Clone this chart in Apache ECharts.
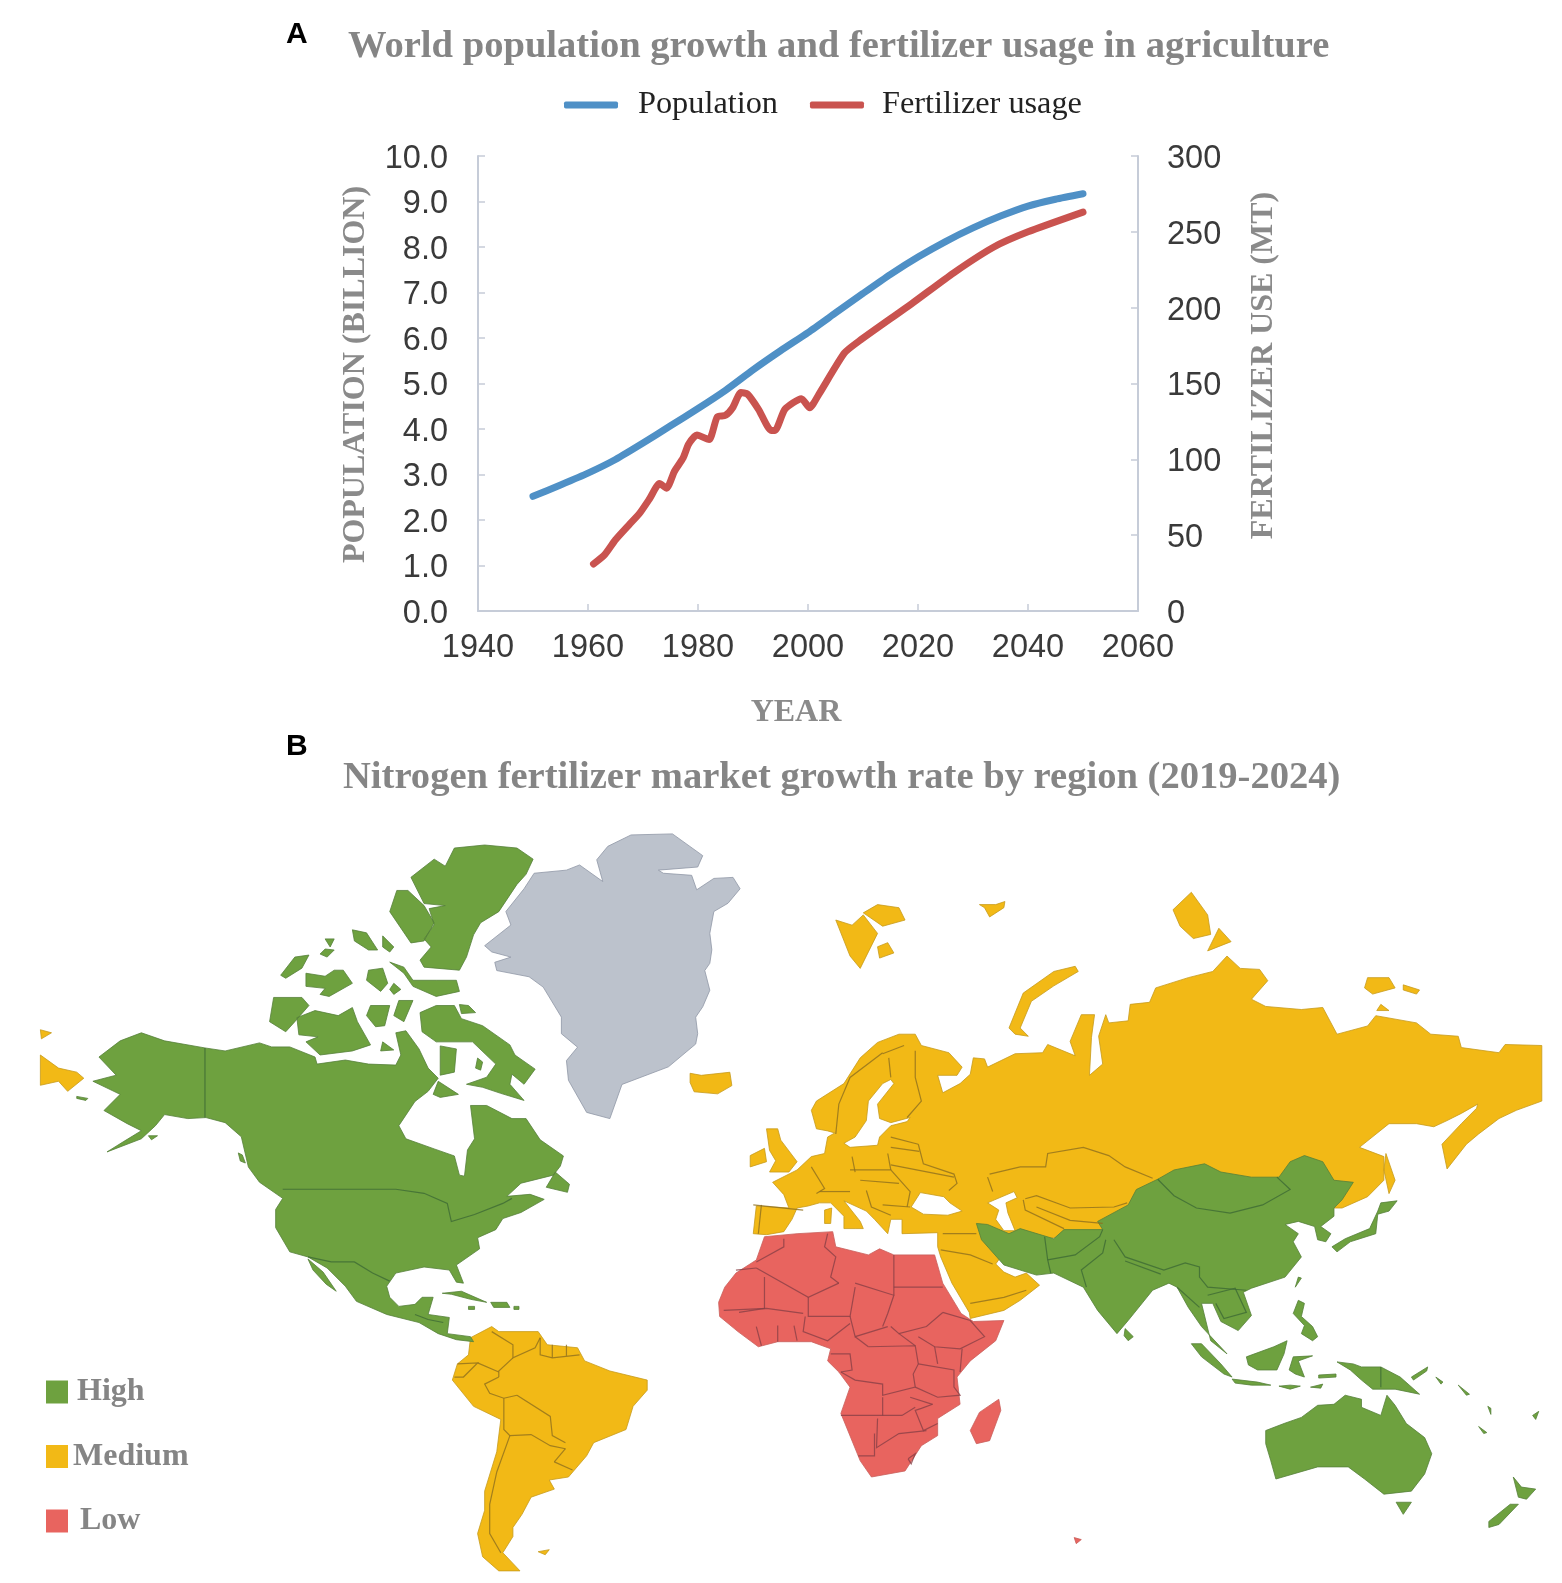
<!DOCTYPE html>
<html>
<head>
<meta charset="utf-8">
<title>Population, fertilizer and nitrogen market growth</title>
<script src="https://cdn.jsdelivr.net/npm/echarts@6/dist/echarts.min.js"></script>
<style>
  html, body { margin: 0; padding: 0; background: #fff; }
  #chart { width: 1562px; height: 1583px; }
</style>
</head>
<body>
<div id="chart"></div>
<script>
// panel A
const POP_YEARS = [1950, 1955, 1960, 1965, 1970, 1975, 1980, 1985, 1990, 1995, 2000, 2005, 2010, 2015, 2020, 2025, 2030, 2035, 2040, 2045, 2050];
const POP_VALUES = [2.52, 2.77, 3.03, 3.33, 3.69, 4.07, 4.45, 4.85, 5.3, 5.72, 6.12, 6.55, 6.98, 7.4, 7.78, 8.12, 8.42, 8.68, 8.9, 9.05, 9.17];
const FERT_YEARS = [1961, 1963, 1965, 1967.5, 1969.3, 1971.2, 1973, 1974.3, 1975.7, 1977.3, 1978.3, 1979.8, 1982, 1983.5, 1985, 1986.3, 1987.8, 1989, 1991, 1993.3, 1994, 1995.8, 1998.8, 2000.3, 2002, 2006.6, 2009.3, 2019, 2026.5, 2033.8, 2040, 2050];
const FERT_VALUES = [31, 37, 47, 57, 64, 74, 84, 81, 92, 101, 110, 116, 113, 128, 129, 134, 144, 143, 133, 119, 119, 133, 140, 134, 143, 170, 178, 203, 223, 240, 250, 263];

// panel B, region outlines (x, y as in the image)
const NORTH_AMERICA = [
  [[98,1047],[119,1031],[140,1023],[163,1031],[203,1038],[223,1041],[257,1033],[269,1037],[287,1037],[312,1047],[314,1054],[342,1050],[365,1054],[392,1055],[397,1045],[392,1023],[402,1021],[415,1039],[424,1058],[434,1068],[424,1081],[411,1091],[395,1115],[402,1128],[430,1138],[450,1145],[455,1164],[460,1165],[463,1139],[470,1128],[466,1095],[482,1095],[507,1108],[521,1108],[535,1129],[558,1145],[555,1155],[548,1164],[516,1172],[502,1185],[525,1183],[539,1188],[516,1201],[498,1207],[491,1218],[473,1226],[475,1237],[452,1253],[459,1271],[452,1270],[445,1258],[420,1255],[392,1261],[383,1274],[386,1285],[395,1294],[411,1292],[418,1285],[429,1285],[424,1302],[445,1305],[443,1321],[466,1324],[469,1329],[452,1327],[434,1321],[415,1310],[383,1302],[353,1289],[342,1274],[324,1256],[305,1245],[287,1240],[273,1216],[273,1198],[280,1187],[257,1171],[246,1156],[239,1126],[223,1112],[204,1107],[186,1108],[163,1104],[154,1115],[140,1128],[106,1141],[122,1131],[140,1120],[126,1113],[103,1100],[119,1084],[92,1071],[115,1065]],
  [[305,1247],[320,1260],[333,1279],[323,1272],[310,1258]],
  [[436,1036],[452,1039],[450,1062],[436,1065]],
  [[473,1048],[478,1052],[476,1060],[471,1058]],
  [[434,1071],[454,1084],[436,1087],[429,1084]],
  [[550,1161],[564,1173],[562,1181],[541,1176]],
  [[236,1142],[240,1144],[243,1152],[238,1150]],
  [[147,1125],[156,1125],[150,1129]],
  [[76,1086],[87,1088],[85,1090],[76,1088]],
  [[438,1281],[457,1279],[482,1290],[466,1287],[447,1282]],
  [[486,1290],[502,1290],[505,1295],[489,1295]],
  [[464,1294],[470,1294],[470,1297],[464,1297]],
  [[509,1294],[514,1294],[514,1297],[509,1297]]
];
const FAR_NORTH_ISLANDS = [
  [[445,865],[454,847],[484,844],[516,847],[532,858],[525,873],[516,883],[498,910],[480,921],[473,933],[466,955],[459,968],[424,965],[420,958],[431,945],[424,937],[434,923],[429,907],[445,904],[424,902],[411,876],[434,858]],
  [[397,889],[408,889],[424,904],[434,921],[424,939],[411,941],[390,910]]
];
const ARCTIC_ISLANDS = [
  [[324,934],[333,934],[329,942]], [[324,944],[333,945],[326,952],[319,949]],
  [[351,925],[365,928],[376,945],[367,945],[353,936]],
  [[381,931],[392,942],[388,947],[381,942]],
  [[294,952],[308,950],[301,963],[285,973],[280,970]],
  [[305,968],[324,971],[333,965],[342,965],[351,978],[328,991],[319,989],[324,983],[305,981]],
  [[367,965],[381,963],[386,978],[379,986],[365,975]],
  [[392,978],[399,984],[392,989],[388,984]],
  [[388,957],[402,962],[411,975],[434,975],[454,975],[457,986],[434,991],[411,981],[402,968]],
  [[273,992],[301,992],[308,1000],[294,1016],[285,1026],[269,1016]],
  [[296,1012],[314,1005],[337,1010],[351,1002],[356,1016],[369,1039],[351,1045],[319,1049],[305,1036],[317,1031],[298,1029]],
  [[369,1000],[388,1000],[383,1020],[374,1021],[365,1010]],
  [[397,995],[411,995],[402,1016],[392,1010]],
  [[381,1036],[392,1044],[379,1045]],
  [[418,1007],[434,1000],[452,1000],[459,1013],[480,1020],[507,1039],[512,1049],[532,1063],[521,1078],[509,1068],[507,1078],[521,1094],[498,1087],[480,1081],[464,1078],[484,1071],[493,1058],[470,1036],[434,1036],[420,1026]],
  [[457,999],[466,1000],[473,1007],[459,1008]]
];
const ASIA_PACIFIC = [
  [[1150,1169],[1166,1160],[1196,1154],[1212,1162],[1242,1167],[1269,1167],[1280,1152],[1294,1146],[1312,1152],[1323,1170],[1342,1172],[1331,1189],[1323,1197],[1323,1205],[1310,1215],[1320,1222],[1315,1230],[1307,1228],[1304,1215],[1288,1210],[1275,1213],[1288,1222],[1283,1230],[1291,1245],[1275,1265],[1242,1276],[1234,1280],[1242,1303],[1229,1318],[1212,1309],[1204,1291],[1193,1291],[1202,1328],[1218,1341],[1193,1314],[1180,1295],[1169,1275],[1161,1271],[1145,1278],[1121,1308],[1110,1321],[1091,1298],[1077,1275],[1048,1261],[1031,1263],[999,1253],[977,1228],[972,1212],[983,1213],[1004,1222],[1015,1217],[1048,1227],[1058,1218],[1096,1218],[1091,1210],[1121,1194],[1129,1179]],
  [[1118,1316],[1126,1324],[1121,1328],[1117,1323]],
  [[1369,1192],[1385,1190],[1377,1200],[1366,1203],[1364,1222],[1339,1230],[1326,1240],[1321,1235],[1334,1227],[1358,1217],[1366,1200]],
  [[1288,1265],[1291,1266],[1285,1275]],
  [[1288,1288],[1294,1291],[1291,1304],[1302,1314],[1307,1324],[1302,1328],[1291,1321],[1294,1313],[1283,1301]],
  [[1183,1331],[1193,1331],[1212,1351],[1223,1364],[1215,1361],[1193,1344]],
  [[1223,1366],[1248,1369],[1261,1372],[1242,1372],[1226,1370]],
  [[1237,1344],[1264,1334],[1277,1328],[1274,1341],[1267,1357],[1248,1357],[1239,1352]],
  [[1283,1344],[1302,1343],[1288,1348],[1294,1364],[1285,1361],[1279,1357]],
  [[1326,1349],[1342,1351],[1350,1354],[1369,1354],[1388,1364],[1407,1381],[1383,1376],[1361,1376],[1350,1367],[1339,1357]],
  [[1269,1373],[1280,1372],[1290,1373],[1280,1376]], [[1300,1374],[1312,1371],[1310,1375]],
  [[1308,1362],[1325,1361],[1325,1364],[1308,1365]],
  [[1399,1364],[1415,1354],[1414,1358],[1401,1367]], [[1423,1364],[1430,1369],[1428,1371]], [[1445,1372],[1456,1381],[1453,1382]],
  [[1474,1393],[1477,1395],[1477,1401]], [[1465,1413],[1473,1419],[1470,1420]], [[1518,1402],[1524,1398],[1521,1406]],
  [[1256,1417],[1274,1410],[1291,1404],[1307,1392],[1323,1391],[1334,1382],[1350,1386],[1350,1394],[1369,1402],[1375,1382],[1383,1392],[1394,1410],[1412,1424],[1419,1440],[1412,1460],[1399,1477],[1372,1480],[1353,1465],[1337,1453],[1307,1453],[1266,1465],[1261,1447],[1256,1430]],
  [[1384,1488],[1399,1488],[1391,1500]],
  [[1499,1463],[1507,1473],[1521,1475],[1512,1485],[1504,1483]],
  [[1504,1490],[1485,1510],[1475,1513],[1475,1507],[1496,1490]]
];
const EURASIA = [
  [[896,1028],[912,1028],[918,1039],[945,1046],[958,1060],[953,1068],[934,1068],[939,1085],[956,1076],[966,1067],[969,1051],[980,1052],[983,1060],[1010,1047],[1037,1046],[1042,1038],[1069,1049],[1064,1035],[1075,1009],[1088,1009],[1085,1031],[1083,1068],[1096,1057],[1092,1030],[1099,1009],[1102,1017],[1121,1015],[1123,999],[1142,997],[1148,983],[1180,973],[1204,967],[1218,952],[1231,964],[1250,965],[1258,976],[1242,994],[1256,1001],[1291,1004],[1312,1002],[1326,1028],[1356,1020],[1364,1010],[1404,1017],[1418,1028],[1445,1030],[1448,1041],[1485,1046],[1491,1038],[1527,1039],[1527,1093],[1502,1102],[1485,1110],[1465,1125],[1453,1135],[1434,1159],[1429,1135],[1448,1115],[1463,1100],[1464,1096],[1448,1105],[1434,1112],[1421,1118],[1404,1115],[1377,1115],[1348,1138],[1372,1147],[1372,1170],[1356,1186],[1331,1197],[1323,1197],[1096,1212],[1096,1218],[1048,1226],[1004,1234],[991,1252],[999,1260],[1010,1265],[1021,1261],[1034,1273],[1015,1288],[999,1298],[966,1306],[965,1300],[948,1271],[937,1245],[934,1235],[934,1221],[899,1222],[899,1208],[888,1208],[885,1222],[872,1208],[864,1200],[842,1190],[858,1210],[861,1217],[853,1217],[842,1217],[842,1205],[829,1192],[818,1192],[807,1195],[796,1197],[791,1208],[783,1220],[766,1223],[753,1222],[756,1195],[788,1197],[783,1184],[772,1172],[796,1160],[810,1147],[823,1144],[826,1128],[833,1124],[826,1122],[815,1120],[810,1102],[815,1093],[842,1076],[858,1051],[875,1036]],
  [[766,1120],[777,1120],[780,1131],[796,1152],[788,1162],[769,1162],[775,1151],[769,1141]],
  [[750,1146],[764,1139],[766,1152],[750,1157]],
  [[691,1066],[702,1068],[730,1065],[732,1078],[718,1086],[695,1084],[691,1075]],
  [[834,917],[850,922],[861,912],[875,930],[858,964],[848,952]],
  [[861,910],[875,902],[896,905],[902,917],[880,923]],
  [[875,943],[885,939],[891,949],[877,954]],
  [[975,902],[991,902],[1000,899],[999,905],[985,914],[980,905]],
  [[1004,1022],[1018,988],[1048,967],[1069,962],[1072,967],[1048,981],[1026,996],[1015,1022],[1023,1030],[1010,1028]],
  [[1183,890],[1199,912],[1202,931],[1185,935],[1172,923],[1165,907]],
  [[1210,925],[1222,938],[1199,947]],
  [[1356,973],[1377,973],[1383,983],[1361,989],[1353,983]],
  [[1391,980],[1407,985],[1404,989],[1391,985]],
  [[1369,999],[1377,1005],[1365,1005]],
  [[1374,1144],[1383,1170],[1377,1183],[1372,1160]],
  [[823,1199],[830,1197],[829,1212],[823,1212]]
];
const BERING_EDGE = [
  [[40,1045],[58,1058],[76,1062],[83,1068],[67,1081],[58,1071],[40,1075]],
  [[40,1020],[51,1023],[41,1029]]
];
const SOUTH_AMERICA = [
  [[470,1327],[491,1316],[498,1321],[537,1321],[546,1334],[576,1337],[583,1350],[608,1360],[645,1369],[645,1379],[631,1395],[624,1418],[592,1431],[585,1444],[567,1465],[548,1468],[553,1477],[530,1485],[521,1502],[512,1515],[512,1524],[502,1540],[519,1558],[498,1558],[482,1544],[477,1521],[484,1498],[484,1479],[496,1440],[500,1408],[473,1395],[452,1369],[457,1353],[468,1344]],
  [[537,1539],[548,1537],[544,1542]]
];
const AFRICA = [
  [[764,1225],[796,1222],[831,1220],[834,1235],[866,1243],[877,1237],[891,1243],[931,1243],[939,1271],[957,1301],[969,1309],[999,1308],[991,1328],[966,1348],[953,1364],[956,1391],[934,1405],[934,1422],[918,1432],[902,1457],[869,1463],[858,1447],[839,1400],[848,1374],[837,1359],[826,1348],[829,1336],[810,1329],[777,1329],[758,1334],[738,1319],[720,1304],[719,1290],[725,1275],[736,1261],[756,1248]],
  [[994,1386],[996,1397],[985,1427],[972,1430],[966,1417],[975,1399]],
  [[1068,1523],[1075,1525],[1070,1529]]
];
const GREENLAND = [
  [[631,834],[672,833],[702,854],[697,865],[658,868],[663,871],[691,873],[696,887],[713,876],[732,875],[739,886],[727,900],[713,908],[709,929],[711,945],[709,958],[704,965],[709,984],[702,1000],[695,1010],[697,1026],[695,1036],[668,1058],[622,1075],[610,1108],[587,1102],[569,1071],[567,1052],[578,1039],[562,1026],[562,1010],[544,981],[530,971],[498,965],[496,957],[512,952],[493,947],[486,941],[512,921],[507,908],[525,886],[535,871],[567,868],[580,863],[603,879],[597,858],[608,845]]
];
const INLAND_SEAS = [
  // Caspian, Black Sea, Baltic
  [[990,1189],[1009,1181],[1012,1187],[1001,1192],[1003,1202],[1010,1219],[999,1219],[991,1208],[994,1199],[983,1192]],
  [[908,1196],[917,1182],[940,1186],[946,1192],[958,1200],[944,1204],[920,1203]],
  [[888,1072],[891,1076],[875,1096],[877,1110],[888,1114],[907,1109],[904,1113],[888,1117],[877,1128],[875,1136],[848,1138],[842,1134],[853,1128],[864,1112],[866,1093],[880,1076]]
];

// internal borders
const NORTH_AMERICA_BORDERS = [
  [[203,1038],[203,1107]],
  [[280,1178],[392,1178],[420,1182],[443,1192],[447,1210],[470,1203],[498,1192],[507,1187]],
  [[305,1245],[328,1250],[351,1250],[369,1261],[386,1269]],
  [[411,1302],[424,1307],[439,1310]]
];
const ASIA_BORDERS = [
  [[1150,1169],[1166,1185],[1188,1197],[1221,1202],[1253,1194],[1280,1179],[1267,1167]],
  [[1039,1225],[1042,1248],[1045,1261]],
  [[1042,1248],[1069,1243],[1093,1225],[1096,1218]],
  [[1099,1228],[1096,1241],[1075,1258],[1080,1275]],
  [[1107,1228],[1118,1245],[1156,1258],[1177,1251],[1191,1255],[1191,1265],[1199,1275],[1237,1278]],
  [[1118,1249],[1153,1262]],
  [[1169,1275],[1191,1295]],
  [[1199,1283],[1226,1276],[1237,1300],[1215,1306],[1207,1291]],
  [[1369,1354],[1369,1374]]
];
const SOUTH_AMERICA_BORDERS = [
  [[491,1321],[512,1334],[512,1347],[534,1337],[539,1327]],
  [[512,1347],[498,1360],[498,1366]],
  [[457,1353],[477,1352],[463,1366],[454,1366]],
  [[477,1352],[498,1361]],
  [[498,1366],[484,1373],[489,1382],[503,1387],[516,1384]],
  [[516,1384],[549,1405],[551,1424],[564,1431]],
  [[503,1387],[503,1418],[509,1424],[530,1423],[549,1434],[564,1437]],
  [[509,1424],[496,1460],[489,1492],[489,1521],[500,1540]],
  [[553,1450],[571,1458]],
  [[564,1437],[553,1450]],
  [[539,1327],[539,1344],[551,1347],[578,1344]],
  [[551,1334],[551,1347]],[[565,1334],[565,1345]]
];
const EURASIA_BORDERS = [
  [[880,1046],[848,1070],[837,1096],[834,1125]],
  [[912,1044],[912,1070],[918,1093],[904,1109]],
  [[880,1047],[901,1039]],[[886,1051],[888,1070]],
  [[810,1157],[823,1178],[815,1183]],
  [[753,1194],[802,1199]],
  [[761,1194],[758,1222]],
  [[850,1147],[853,1162]],[[885,1144],[888,1160]],
  [[888,1155],[950,1167]],
  [[915,1135],[920,1154],[950,1164],[953,1173],[945,1180]],
  [[818,1181],[848,1181]],
  [[848,1160],[888,1160],[907,1181],[904,1196]],
  [[858,1170],[896,1173]],
  [[864,1180],[869,1196],[888,1204]],
  [[880,1194],[907,1196]],
  [[888,1128],[915,1135]],[[888,1138],[916,1142]],
  [[985,1164],[1015,1157],[1040,1157],[1042,1144],[1077,1138],[1102,1146],[1118,1157],[1145,1168]],
  [[983,1167],[988,1181]],
  [[1020,1188],[1031,1185],[1064,1197],[1107,1196],[1120,1192]],
  [[1018,1189],[1020,1199],[1058,1217]],
  [[1031,1196],[1064,1209],[1096,1212]],
  [[937,1238],[966,1243],[988,1252]],
  [[939,1222],[972,1222]],
  [[966,1291],[999,1285],[1021,1278]]
];
const AFRICA_BORDERS = [
  [[826,1222],[823,1235],[834,1245],[829,1265],[837,1271]],
  [[783,1227],[783,1235],[756,1250]],
  [[756,1256],[807,1285],[837,1271]],
  [[891,1243],[891,1283]],
  [[891,1275],[939,1275]],
  [[853,1271],[891,1283],[885,1301],[880,1314]],
  [[807,1285],[807,1304],[848,1304],[853,1275]],
  [[764,1265],[764,1296],[739,1300]],
  [[736,1258],[756,1256]],
  [[848,1304],[853,1324],[885,1314]],
  [[888,1314],[896,1321],[923,1314],[939,1300]],
  [[939,1300],[966,1308],[980,1324],[956,1336],[931,1334],[915,1324]],
  [[804,1304],[802,1319],[826,1328],[848,1311]],
  [[724,1298],[766,1296],[802,1301]],
  [[756,1314],[761,1333]],[[777,1313],[777,1329]],[[793,1313],[796,1328]],
  [[866,1334],[912,1333],[915,1351],[910,1361],[912,1374],[880,1382],[880,1371],[853,1367],[839,1359]],
  [[853,1324],[866,1334]],[[896,1321],[912,1333]],
  [[829,1341],[848,1341],[850,1357],[839,1359]],
  [[915,1351],[950,1357],[950,1374],[956,1382],[934,1384],[912,1374]],
  [[931,1334],[934,1351]],[[958,1336],[956,1359]],
  [[839,1402],[899,1402],[912,1394]],
  [[880,1384],[880,1402]],[[907,1384],[929,1391]],
  [[875,1405],[874,1434],[896,1420],[923,1417]],
  [[872,1420],[872,1442],[856,1442]],
  [[929,1391],[918,1395],[912,1397],[920,1417],[934,1410]],
  [[905,1445],[912,1440],[908,1450],[905,1445]]
];

const HIGH_COLOR = '#6ea13f';
const MEDIUM_COLOR = '#f2b916';
const LOW_COLOR = '#e8645f';
const GREENLAND_COLOR = '#bcc2cc';

// small corrections to the tracing, found by comparing against the reference
const shift = (rings, dx, dy) => rings.map((ring) => ring.map((p) => [p[0] + dx, p[1] + dy]));
const fitNorth = (y) => (y < 1220 ? y - 6 * (1220 - y) / 320 : y);
const fitEast = (rings) => rings.map((ring) => ring.map((p) => [p[0] - 7 * (1527 - p[0]) / 777, fitNorth(p[1])]));
const fitGreenland = (rings) => rings.map((ring) => ring.map((p) => [p[0] - 6, p[1] - 7 * (1108 - p[1]) / 275]));

const HIGH_RINGS = [
  ...NORTH_AMERICA,
  ...shift(FAR_NORTH_ISLANDS, -4, -7),
  ...shift(ARCTIC_ISLANDS, -2, -4),
  ...fitEast(ASIA_PACIFIC),
];
const MEDIUM_RINGS = [...fitEast(EURASIA), ...BERING_EDGE, ...shift(SOUTH_AMERICA, -4, -2)];
const LOW_RINGS = fitEast(AFRICA);
const HIGH_LINES = [...NORTH_AMERICA_BORDERS, ...fitEast(ASIA_BORDERS)];
const MEDIUM_LINES = [...shift(SOUTH_AMERICA_BORDERS, -4, -2), ...fitEast(EURASIA_BORDERS)];
const LOW_LINES = fitEast(AFRICA_BORDERS);

const flipY = (rings) => rings.map((ring) => ring.map((p) => [p[0], -p[1]]));
const landFeature = (name, rings) => ({
  type: 'Feature',
  properties: { name },
  geometry: { type: 'MultiPolygon', coordinates: flipY(rings).map((r) => [r]) },
});

echarts.registerMap('tracedWorld', {
  type: 'FeatureCollection',
  features: [
    landFeature('Medium land', MEDIUM_RINGS),
    landFeature('Water', fitEast(INLAND_SEAS)),
    landFeature('Low land', LOW_RINGS),
    landFeature('High land', HIGH_RINGS),
    landFeature('Greenland', fitGreenland(GREENLAND)),
  ],
});

const regionStyle = (name, color, border) => ({
  name,
  itemStyle: { areaColor: color, borderColor: border, borderWidth: 0.8 },
  emphasis: { itemStyle: { areaColor: color } },
});

const borderSeries = (name, borders, color) => ({
  name,
  type: 'lines',
  coordinateSystem: 'geo',
  polyline: true,
  silent: true,
  data: flipY(borders).map((coords) => ({ coords })),
  lineStyle: { color, width: 1.2, opacity: 0.8 },
  z: 5,
});

const serif = '"Liberation Serif", "Times New Roman", serif';
const sans = '"Liberation Sans", Arial, sans-serif';
const axisColor = '#c6ccd8';
const nameStyle = { fontFamily: serif, fontWeight: 'bold', fontSize: 32, color: '#8a8a8a' };
const tickStyle = { fontFamily: sans, fontSize: 32.5, color: '#3a3a3a' };
// the reference's y labels sit a little below their ticks
const lowLabel = { verticalAlign: 'top', lineHeight: 6 };
const axisLine = { show: true, lineStyle: { color: axisColor, width: 2 } };
const axisTick = { show: true, inside: true, length: 7, lineStyle: { color: axisColor, width: 1.5 } };

const chart = echarts.init(document.getElementById('chart'), null, { renderer: 'canvas' });

chart.setOption({
  animation: false,
  backgroundColor: '#fff',
  title: [
    { text: 'A', left: 281, top: 15, textStyle: { fontFamily: sans, fontWeight: 'bold', fontSize: 30, color: '#000' } },
    { text: 'B', left: 281, top: 727, textStyle: { fontFamily: sans, fontWeight: 'bold', fontSize: 30, color: '#000' } },
    { text: 'World population growth and fertilizer usage in agriculture', left: 343, top: 23, textStyle: { fontFamily: serif, fontWeight: 'bold', fontSize: 38.6, color: '#858585' } },
    { text: 'Nitrogen fertilizer market growth rate by region (2019-2024)', left: 338, top: 754, textStyle: { fontFamily: serif, fontWeight: 'bold', fontSize: 38.6, color: '#858585' } },
  ],
  legend: [
    {
      data: [
        { name: 'Population', icon: 'roundRect', textStyle: { padding: [0, 0, 0, 15] } },
        { name: 'Fertilizer usage', icon: 'roundRect', textStyle: { padding: [0, 0, 0, 13] } },
      ],
      left: 559, top: 84, itemWidth: 54, itemHeight: 7, itemGap: 32,
      textStyle: { fontFamily: serif, fontSize: 32.3, color: '#222' },
    },
    {
      data: [
        { name: 'High', icon: 'rect', textStyle: { padding: [0, 0, 0, 4] } },
        { name: 'Medium', icon: 'rect', textStyle: { padding: [0, 0, 0, 0] } },
        { name: 'Low', icon: 'rect', textStyle: { padding: [0, 0, 0, 7] } },
      ],
      orient: 'vertical', left: 41, top: 1371, itemWidth: 22, itemHeight: 23, itemGap: 32.5, selectedMode: false,
      textStyle: { fontFamily: serif, fontWeight: 'bold', fontSize: 32, color: '#858585' },
    },
  ],
  grid: { left: 478, top: 156, width: 660, height: 455 },
  xAxis: {
    type: 'value', min: 1940, max: 2060, interval: 20,
    name: 'YEAR', nameLocation: 'middle', nameGap: 86,
    nameTextStyle: { ...nameStyle, padding: [0, 24, 0, 0] },
    axisLine, axisTick, splitLine: { show: false },
    axisLabel: { ...tickStyle, margin: 21, formatter: (v) => String(v) },
  },
  yAxis: [
    {
      type: 'value', min: 0, max: 10, interval: 1,
      name: 'POPULATION (BILLION)', nameLocation: 'middle', nameGap: 106, nameRotate: 90,
      nameTextStyle: { ...nameStyle, padding: [0, 0, 0, 18] },
      axisLine, axisTick, splitLine: { show: false },
      axisLabel: { ...tickStyle, ...lowLabel, margin: 30, formatter: (v) => v.toFixed(1) },
    },
    {
      type: 'value', min: 0, max: 300, interval: 50, position: 'right',
      name: 'FERTILIZER USE (MT)', nameLocation: 'middle', nameGap: 110, nameRotate: 90,
      nameTextStyle: { ...nameStyle, padding: [0, 0, 0, 36] },
      axisLine, axisTick, splitLine: { show: false },
      axisLabel: { ...tickStyle, ...lowLabel, margin: 29 },
    },
  ],
  geo: {
    map: 'tracedWorld',
    silent: true,
    roam: false,
    aspectScale: 1,
    left: 0, top: 0, width: 1562, height: 1583,
    boundingCoords: [[0, 0], [1547, -1568]],
    label: { show: false },
    regions: [
      regionStyle('Medium land', MEDIUM_COLOR, '#c79a1c'),
      regionStyle('Water', '#fff', '#c79a1c'),
      regionStyle('Low land', LOW_COLOR, '#c9605c'),
      regionStyle('High land', HIGH_COLOR, '#56803a'),
      regionStyle('Greenland', GREENLAND_COLOR, '#8f97a6'),
    ],
  },
  series: [
    {
      name: 'Population', type: 'line', xAxisIndex: 0, yAxisIndex: 0, showSymbol: false, smooth: 0.2,
      data: POP_YEARS.map((y, i) => [y, POP_VALUES[i]]),
      lineStyle: { color: '#4f90c6', width: 7, cap: 'round', join: 'round' }, itemStyle: { color: '#4f90c6' },
    },
    {
      name: 'Fertilizer usage', type: 'line', xAxisIndex: 0, yAxisIndex: 1, showSymbol: false, smooth: 0.2,
      data: FERT_YEARS.map((y, i) => [y, FERT_VALUES[i]]),
      lineStyle: { color: '#c9534f', width: 7, cap: 'round', join: 'round' }, itemStyle: { color: '#c9534f' },
    },
    borderSeries('High borders', HIGH_LINES, '#3d6a35'),
    borderSeries('Medium borders', MEDIUM_LINES, '#8f6f1e'),
    borderSeries('Low borders', LOW_LINES, '#8a4046'),
    { name: 'High', type: 'scatter', coordinateSystem: 'geo', data: [], itemStyle: { color: HIGH_COLOR, opacity: 1 } },
    { name: 'Medium', type: 'scatter', coordinateSystem: 'geo', data: [], itemStyle: { color: MEDIUM_COLOR, opacity: 1 } },
    { name: 'Low', type: 'scatter', coordinateSystem: 'geo', data: [], itemStyle: { color: LOW_COLOR, opacity: 1 } },
  ],
});
</script>
</body>
</html>
